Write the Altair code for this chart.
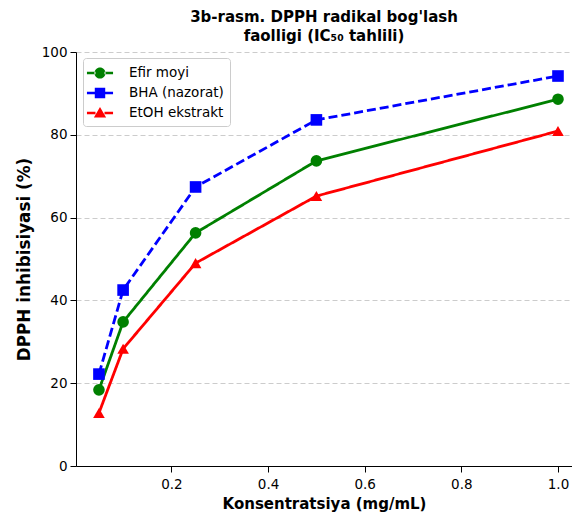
import altair as alt
import pandas as pd

conc = [0.05, 0.1, 0.25, 0.5, 1.0]
series = ["Efir moyi", "BHA (nazorat)", "EtOH ekstrakt"]
efir = [18.4, 34.8, 56.3, 73.7, 88.6]
bha = [22.2, 42.5, 67.4, 83.6, 94.2]
etoh = [12.8, 28.3, 49.0, 65.2, 80.9]
x_ticks = [0.2, 0.4, 0.6, 0.8, 1.0]
y_ticks = [0, 20, 40, 60, 80, 100]

rows = []
for name, vals in zip(series, [efir, bha, etoh]):
    for c, v in zip(conc, vals):
        rows.append({"conc": c, "val": v, "series": name, "series_leg": name})
df = pd.DataFrame(rows)

colors = ["#008000", "#0000ff", "#ff0000"]
FONT = "DejaVu Sans"

color_scale = alt.Scale(domain=series, range=colors)
x_enc = alt.X("conc:Q", scale=alt.Scale(domain=[0.0025, 1.029], nice=False, zero=False),
              axis=alt.Axis(values=x_ticks, format=".1f", grid=False,
                            title="Konsentratsiya (mg/mL)"))
y_enc = alt.Y("val:Q", scale=alt.Scale(domain=[0, 100], nice=False),
              axis=alt.Axis(values=y_ticks, grid=True, gridDash=[5, 3], gridColor="#cccccc",
                            title="DPPH inhibisiyasi (%)", titleFontSize=16.8, titlePadding=8))

base = alt.Chart(df)
dash_scale = alt.Scale(domain=series, range=[[1, 0], [9, 4], [1, 0]])
shape_scale = alt.Scale(domain=series, range=["circle", "square", "triangle-up"])

layers = []
for name in series:
    sub = base.transform_filter(alt.datum.series == name)
    layers.append(sub.mark_line(strokeWidth=2.8).encode(
        x=x_enc, y=y_enc,
        color=alt.Color("series:N", scale=color_scale, legend=None),
        strokeDash=alt.StrokeDash("series:N", scale=dash_scale, legend=None),
    ))
    layers.append(sub.mark_point(filled=True, size=135, opacity=1).encode(
        x=x_enc, y=y_enc,
        color=alt.Color("series:N", scale=color_scale, legend=None),
        shape=alt.Shape("series:N", scale=shape_scale, legend=None),
    ))

seg = "M-1.45,-0.14H-0.5V0.14H-1.45Z M0.5,-0.14H1.45V0.14H0.5Z "
leg_paths = [
    seg + "M-0.62,0A0.62,0.62 0 1,0 0.62,0A0.62,0.62 0 1,0 -0.62,0Z",
    seg + "M-0.58,-0.58H0.58V0.58H-0.58Z",
    seg + "M0,-0.66L0.68,0.5H-0.68Z",
]

legend_layer = base.mark_point(filled=True, opacity=0).encode(
    x=x_enc, y=y_enc,
    color=alt.Color("series_leg:N", scale=alt.Scale(domain=series, range=colors),
                    legend=alt.Legend(title=None)),
    shape=alt.Shape("series_leg:N", scale=alt.Scale(domain=series, range=leg_paths),
                    legend=alt.Legend(title=None)),
)
layers.append(legend_layer)

chart = alt.layer(*layers).resolve_scale(
    color="independent", shape="independent"
).properties(
    width=496, height=414,
    autosize=alt.AutoSizeParams(type="none"),
    padding={"left": 68, "top": 44, "right": 0, "bottom": 52},
    title=alt.Title(["3b-rasm. DPPH radikal bog'lash", "faolligi (IC₅₀ tahlili)"],
                    font=FONT, fontSize=15, fontWeight="bold", color="black",
                    anchor="middle", offset=1, lineHeight=19),
).configure_view(stroke=None).configure_axis(
    labelFont=FONT, labelFontSize=13.5, labelColor="black",
    titleFont=FONT, titleFontSize=15, titleFontWeight="bold", titleColor="black",
    domainColor="black", tickColor="black", tickSize=6, domainWidth=1, tickWidth=1,
).configure_axisY(labelPadding=3).configure_axisX(titlePadding=6, labelPadding=5).configure_legend(
    orient="none", legendX=7, legendY=6, fillColor="white", strokeColor="#cccccc", cornerRadius=3,
    padding=6, labelFont=FONT, labelFontSize=13.5, labelColor="black",
    symbolSize=324, symbolOpacity=1, symbolStrokeWidth=0, rowPadding=4, labelOffset=20,
    symbolOffset=2,
)

chart.save("out.html", embed_options={"renderer": "svg", "actions": False})
